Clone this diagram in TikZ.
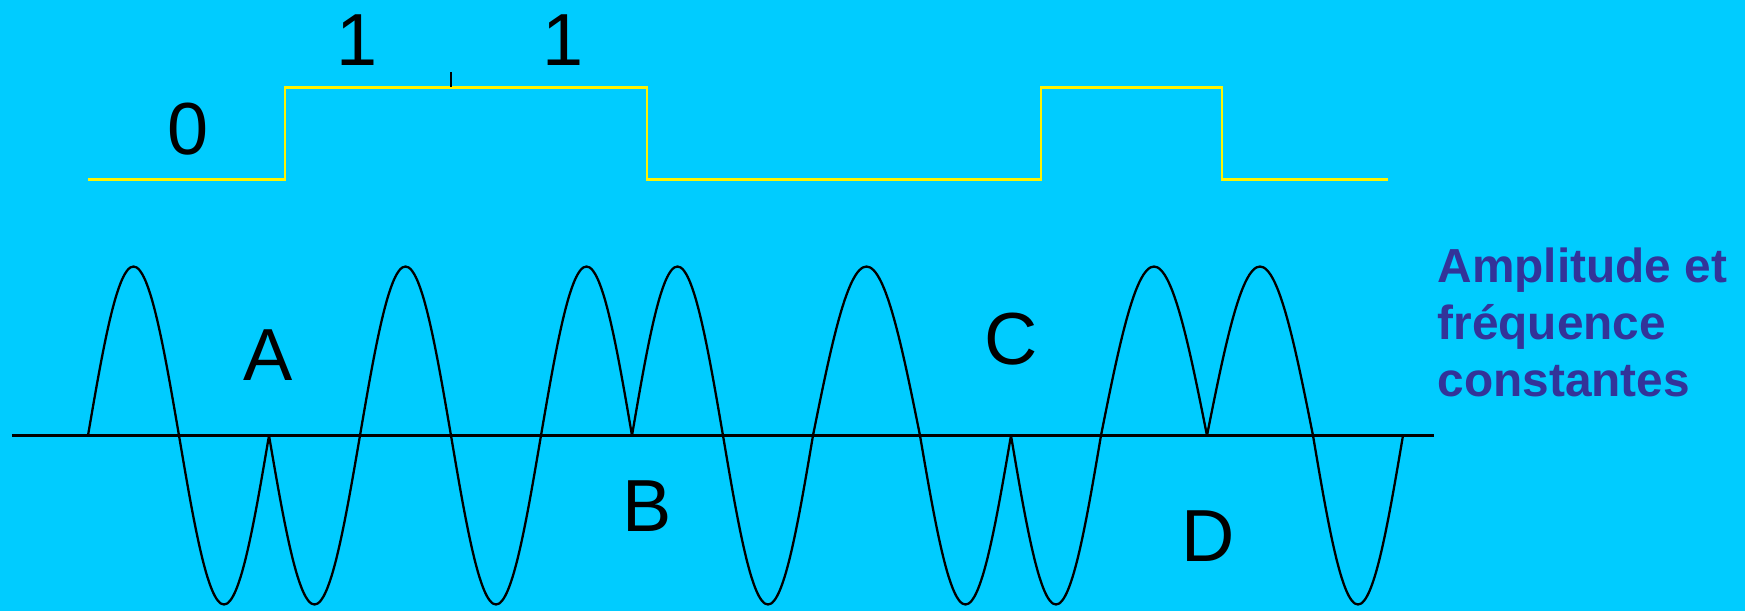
\documentclass[tikz,border=0pt]{standalone}
\usepackage{fontspec}
\setmainfont{Liberation Sans}
\usepackage{xcolor}
\usetikzlibrary{positioning}

\definecolor{bgblue}{HTML}{00CCFF}
\definecolor{capblue}{HTML}{333399}

\begin{document}
\begin{tikzpicture}[
  signal/.style={draw=yellow, line width=0.85pt, line join=miter},
  wave/.style={draw=black, line width=0.65pt},
  axis/.style={draw=black, line width=0.8pt},
  tick/.style={draw=black, line width=0.4pt},
  bit/.style={inner sep=0pt, font=\fontsize{21}{25}\selectfont},
  phase/.style={inner sep=0pt, font=\fontsize{21}{25}\selectfont},
  caption/.style={inner sep=0pt, align=left, text=capblue,
                  font=\fontsize{13.6}{16.2}\selectfont\bfseries},
]
  % background and page size
  \fill[bgblue] (0,0) rectangle (17.45,-6.11);
  \useasboundingbox (0,0) rectangle (17.45,-6.11);

  % binary signal 0 1 1 ...
  \draw[signal] (0.88,-1.79) -- (2.85,-1.79) -- (2.85,-0.87) -- (6.47,-0.87)
       -- (6.47,-1.79) -- (10.41,-1.79) -- (10.41,-0.87) -- (12.22,-0.87)
       -- (12.22,-1.79) -- (13.88,-1.79);
  \draw[tick] (4.51,-0.87) -- (4.51,-0.72);
  \node[bit] (bit0) at (1.88,-1.29) {0};
  \node[bit] (bit1) at (3.57,-0.40) {1};
  \node[bit] (bit2) at (5.63,-0.40) {1};

  % modulated carrier, one lobe per half period
  \draw[axis] (0.12,-4.355) -- (14.34,-4.355);
  \foreach \a/\b/\s in {0.88/1.79/1, 1.79/2.69/-1, 2.69/3.60/-1, 3.60/4.51/1,
                        4.51/5.41/-1, 5.41/6.32/1, 6.32/7.23/1, 7.23/8.13/-1,
                        8.13/9.20/1, 9.20/10.11/-1, 10.11/11.01/-1,
                        11.01/12.07/1, 12.07/13.13/1, 13.13/14.03/-1}
    \draw[wave] plot[domain=0:180, samples=31, smooth]
         ({\a+(\b-\a)*\x/180}, {-4.355+\s*1.69*sin(\x)});

  % phase jumps
  \node[phase] (jumpA) at (2.68,-3.55) {A};
  \node[phase] (jumpB) at (6.47,-5.06) {B};
  \node[phase] (jumpC) at (10.11,-3.395) {C};
  \node[phase] (jumpD) at (12.08,-5.36) {D};

  \node[caption, anchor=north west] (note) at (14.37,-2.47)
       {Amplitude et\\ fréquence\\ constantes};
\end{tikzpicture}
\end{document}
